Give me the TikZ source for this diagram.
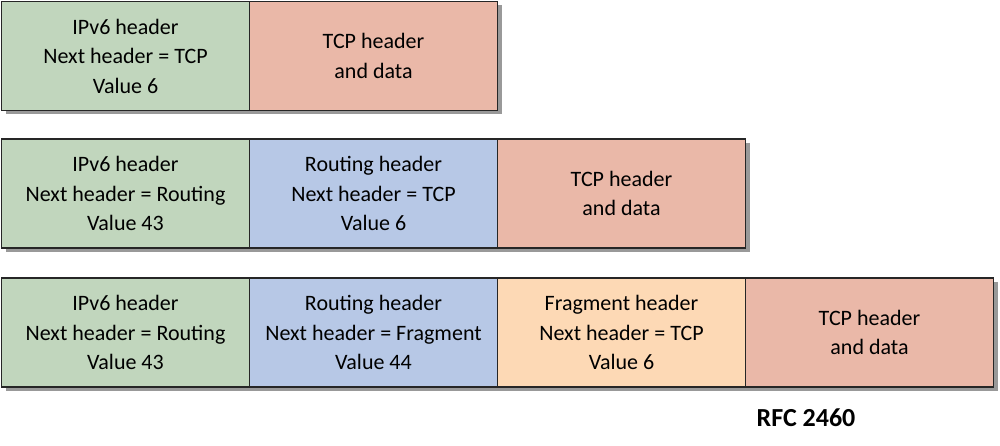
\documentclass[tikz,border=0pt]{standalone}
\usepackage{fontspec}
\setmainfont{Carlito}
\usetikzlibrary{positioning,shadows}

\definecolor{ipgreen}{RGB}{193,214,189}
\definecolor{tcpred}{RGB}{234,184,168}
\definecolor{routblue}{RGB}{183,200,230}
\definecolor{fragpeach}{RGB}{253,217,181}

\begin{document}
\begin{tikzpicture}[x=1pt,y=1pt,
every node/.style={%
    inner sep=0pt, outer sep=0pt, align=center, font=\fontsize{22}{29.5}\selectfont
    },
hdr/.style={draw=black!85, line width=0.8pt, minimum width=248pt, minimum height=109pt,
    drop shadow={shadow xshift=4pt, shadow yshift=-4pt, fill=black!40, opacity=1}},
outline/.style={draw=black!85, line width=1.8pt}
]
\useasboundingbox (0,0) rectangle (1000,-446);

% row 1
\node[hdr, fill=ipgreen, anchor=north west] (a1) at (1.5,-1.5) {IPv6 header\\Next header = TCP\\Value 6};
\node[hdr, fill=tcpred, right=0pt of a1] (a2) {TCP header\\and data};
\draw[outline] (a1.north west) rectangle (a2.south east);

% row 2
\node[hdr, fill=ipgreen, anchor=north west] (b1) at (1.5,-139) {IPv6 header\\Next header = Routing\\Value 43};
\node[hdr, fill=routblue, right=0pt of b1] (b2) {Routing header\\Next header = TCP\\Value 6};
\node[hdr, fill=tcpred, right=0pt of b2] (b3) {TCP header\\and data};
\draw[outline] (b1.north west) rectangle (b3.south east);

% row 3
\node[hdr, fill=ipgreen, anchor=north west] (c1) at (1.5,-278) {IPv6 header\\Next header = Routing\\Value 43};
\node[hdr, fill=routblue, right=0pt of c1] (c2) {Routing header\\Next header = Fragment\\Value 44};
\node[hdr, fill=fragpeach, right=0pt of c2] (c3) {Fragment header\\Next header = TCP\\Value 6};
\node[hdr, fill=tcpred, right=0pt of c3] (c4) {TCP header\\and data};
\draw[outline] (c1.north west) rectangle (c4.south east);

\node[font=\bfseries\fontsize{26}{30}\selectfont] (rfc) at (806,-418) {RFC 2460};

\end{tikzpicture}
\end{document}
